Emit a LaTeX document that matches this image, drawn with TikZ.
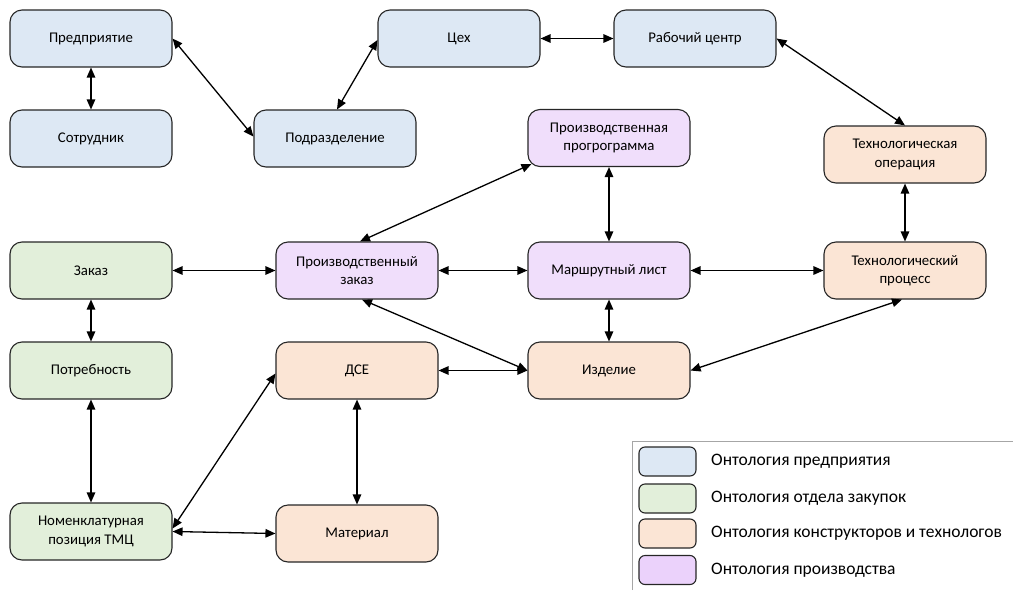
\documentclass[tikz,border=0pt]{standalone}
\usepackage{fontspec}
\setmainfont{Carlito}
\usetikzlibrary{arrows.meta,calc}
\definecolor{cblue}{HTML}{DDE8F4}
\definecolor{cgreen}{HTML}{E2EFDA}
\definecolor{cpeach}{HTML}{FBE5D5}
\definecolor{cpurple}{HTML}{F0DEFB}
\definecolor{cpurpleL}{HTML}{EBD2FB}
\definecolor{cborder}{HTML}{262626}
\definecolor{cframe}{HTML}{A6A6A6}
\tikzset{
  box/.style={draw=cborder, line width=1.1pt, rounded corners=12pt, minimum width=162pt, minimum height=57pt, align=center, font=\fontsize{14.8}{18.5}\selectfont, inner sep=2pt},
  bl/.style={box, fill=cblue},
  gr/.style={box, fill=cgreen},
  pe/.style={box, fill=cpeach},
  pu/.style={box, fill=cpurple},
  lgbox/.style={draw=cborder, line width=1.1pt, rounded corners=6pt, minimum width=57pt, minimum height=29pt, inner sep=0pt},
  lgtext/.style={anchor=west, font=\fontsize{17.5}{20}\selectfont, inner sep=0pt},
  conn/.style={line width=1.3pt, {Triangle[length=10pt,width=8.5pt]}-{Triangle[length=10pt,width=8.5pt]}},
}
\begin{document}
\begin{tikzpicture}[x=1pt,y=-1pt]
\useasboundingbox (0,0) rectangle (1013,590);
% nodes
\node[bl] (pred) at (91,38.5) {Предприятие};
\node[bl] (sotr) at (91,138.5) {Сотрудник};
\node[bl] (podr) at (335,138.5) {Подразделение};
\node[bl] (cex) at (459,38.5) {Цех};
\node[bl] (rc) at (695,38.5) {Рабочий центр};
\node[pu] (prog) at (609,138) {Производственная\\прогрограмма};
\node[pe] (top) at (905,154.5) {Технологическая\\операция};
\node[gr] (zak) at (91,270.5) {Заказ};
\node[pu] (pz) at (357,270.5) {Производственный\\заказ};
\node[pu] (mars) at (609,270.5) {Маршрутный лист};
\node[pe] (tpr) at (905,270.5) {Технологический\\процесс};
\node[gr] (potr) at (91,370.5) {Потребность};
\node[pe] (dse) at (357,370.5) {ДСЕ};
\node[pe] (izd) at (609,370.5) {Изделие};
\node[gr] (nom) at (91,531.5) {Номенклатурная\\позиция ТМЦ};
\node[pe] (mat) at (357,533.5) {Материал};
% connectors
\draw[conn] (pred.south) -- (sotr.north);
\draw[conn] (pred.east) -- ([yshift=2pt]podr.west);
\draw[conn] ([xshift=2pt]podr.north) -- ([yshift=-1.5pt]cex.west);
\draw[conn] (cex.east) -- (rc.west);
\draw[conn] (rc.east) -- (top.north);
\draw[conn] (top.south) -- (tpr.north);
\draw[conn] (prog.south) -- (mars.north);
\draw[conn] ([xshift=4pt,yshift=3pt]prog.south west) -- ([xshift=3pt]pz.north);
\draw[conn] (zak.east) -- (pz.west);
\draw[conn] (pz.east) -- (mars.west);
\draw[conn] (mars.east) -- (tpr.west);
\draw[conn] (zak.south) -- (potr.north);
\draw[conn] (mars.south) -- (izd.north);
\draw[conn] ([xshift=5pt]pz.south) -- (izd.west);
\draw[conn] (dse.east) -- (izd.west);
\draw[conn] (izd.east) -- ([xshift=-3pt]tpr.south);
\draw[conn] (potr.south) -- (nom.north);
\draw[conn] (dse.south) -- (mat.north);
\draw[conn] ([yshift=3pt]nom.east) -- ([yshift=-3pt]dse.west);
\draw[conn] (nom.east) -- (mat.west);
% legend
\draw[cframe, line width=1pt] (632,590) -- (632,441) -- (1013,441);
\node[lgbox, fill=cblue] (lg1) at (667.5,461.5) {};
\node[lgbox, fill=cgreen] (lg2) at (667.5,498.5) {};
\node[lgbox, fill=cpeach] (lg3) at (667.5,533.5) {};
\node[lgbox, fill=cpurpleL] (lg4) at (667.5,570) {};
\node[lgtext] (lt1) at (711,461.5) {Онтология предприятия};
\node[lgtext] (lt2) at (711,498.5) {Онтология отдела закупок};
\node[lgtext] (lt3) at (711,533.5) {Онтология конструкторов и технологов};
\node[lgtext] (lt4) at (711,570) {Онтология производства};
\end{tikzpicture}
\end{document}
